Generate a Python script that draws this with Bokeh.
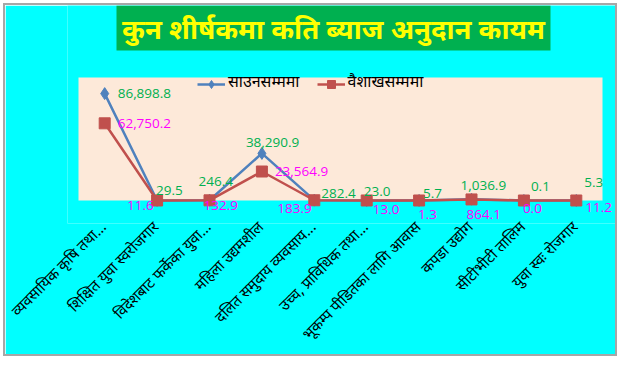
import math
from bokeh.plotting import figure
from bokeh.models import (ColumnDataSource, Range1d, LabelSet, FixedTicker,
                          BoxAnnotation, Legend, Label)
from bokeh.core.properties import value
from bokeh.embed import file_html
from bokeh.resources import INLINE

categories = [
    "व्यवसायिक कृषि तथा...",
    "शिक्षित युवा स्वरोजगार",
    "विदेशबाट फर्केका युवा...",
    "महिला उद्यमशील",
    "दलित समुदाय व्यवसाय...",
    "उच्च, प्राविधिक तथा...",
    "भूकम्प पीडितका लागि आवास",
    "कपडा उद्योग",
    "सीटीभीटी तालिम",
    "युवा स्वः रोजगार",
]
saun = [86898.8, 29.5, 246.4, 38290.9, 282.4, 23.0, 5.7, 1036.9, 0.1, 5.3]
baishakh = [62750.2, 11.6, 132.9, 23564.9, 183.9, 13.0, 1.3, 864.1, 0.0, 11.2]
series_names = ["साउनसम्ममा", "वैशाखसम्ममा"]
title_text = "कुन शीर्षकमा कति ब्याज अनुदान कायम"

# label placement (pixels, style only)
saun_dx = [13, -1, -11, -16, 7, -3, 4, -11, 7, 8]
saun_dy = [0, -10, -19, -11, -7, -9, -7, -14, -14, -18]
bai_dx = [13, -30, -6, 13, -37, 6, -1, -5, -1, 9]
bai_dy = [0, 5, 5, 0, 8, 9, 14, 15, 8, 7]

FONT = "Noto Sans Devanagari, Lohit Devanagari, Mangal, Noto Sans, sans-serif"
NUMFONT = "Open Sans"

n = len(categories)
xpos = list(range(n))

CW, CH = 612, 354              # canvas size
plot_left, plot_top = 73, 72   # peach plot area (canvas px)
plot_h = 123                   # px for 0..ymax
zero_y = plot_top + plot_h
pad_below = 23                 # frame px below zero line
ymax = 100000
px_per_val = ymax / plot_h
frame_top = 0
pad_above = plot_top - frame_top
frame_h = pad_above + plot_h + pad_below
frame_bottom = frame_top + frame_h

band_px = 52.4
pad_l_px, pad_r_px = 11, 13
frame_left = plot_left - pad_l_px
frame_w = round(band_px * n + pad_l_px + pad_r_px)


def cx(px):
    """canvas px -> x data coordinate"""
    return -0.5 + (px - plot_left) / band_px


def cy(px):
    """canvas px -> y data coordinate"""
    return (zero_y - px) * px_per_val


p = figure(x_range=Range1d(cx(frame_left), cx(frame_left + frame_w)),
           y_range=Range1d(cy(frame_bottom), cy(frame_top)),
           width=CW, height=CH, frame_width=frame_w, frame_height=frame_h,
           output_backend="svg", toolbar_location=None, title=None,
           min_border_left=frame_left, min_border_right=0,
           min_border_top=frame_top, min_border_bottom=120)
p.styles = {"border": "2px solid #A6A6A6", "margin-left": "3px", "margin-top": "3px"}
p.background_fill_color = "#00FFFF"
p.border_fill_color = "#00FFFF"
p.outline_line_color = None
p.grid.visible = False
p.yaxis.visible = False

# plot area background
p.add_layout(BoxAnnotation(bottom=0, top=ymax, left=-0.5, right=n - 0.5,
                           fill_color="#FDE9D9", fill_alpha=1.0,
                           line_color=None, level="underlay"))

# title box
tl, tr, tt, tb = 111, 545, 0, 45
p.add_layout(BoxAnnotation(left=cx(tl), right=cx(tr), top=cy(tt), bottom=cy(tb),
                           fill_color="#00B050", fill_alpha=1.0, line_color=None))
p.add_layout(Label(x=(tl + tr) / 2 - frame_left, y=frame_bottom - 26.5,
                   x_units="screen", y_units="screen", text=title_text,
                   text_align="center", text_baseline="middle",
                   text_color="#FFFF00", text_font=FONT, text_font_style="bold",
                   text_font_size="27.5px"))

src = ColumnDataSource(dict(x=xpos, saun=saun, bai=baishakh,
                            saun_lbl=[f"{v:,.1f}" for v in saun],
                            bai_lbl=[f"{v:,.1f}" for v in baishakh],
                            sdx=saun_dx, sdy=[-d for d in saun_dy],
                            bdx=bai_dx, bdy=[-d for d in bai_dy]))

l1 = p.line("x", "saun", source=src, line_color="#4F81BD", line_width=2.5)
m1 = p.scatter("x", "saun", source=src, marker="diamond", size=12,
               fill_color="#4F81BD", line_color="#4F81BD")
l2 = p.line("x", "bai", source=src, line_color="#C0504D", line_width=2.5)
m2 = p.scatter("x", "bai", source=src, marker="square", size=11,
               fill_color="#C0504D", line_color="#C0504D")

p.add_layout(LabelSet(x="x", y="saun", text="saun_lbl", source=src,
                      x_offset="sdx", y_offset="sdy", text_align="left",
                      text_baseline="middle", text_color="#00B050",
                      text_font=value(NUMFONT), text_font_size="13.5px"))
p.add_layout(LabelSet(x="x", y="bai", text="bai_lbl", source=src,
                      x_offset="bdx", y_offset="bdy", text_align="left",
                      text_baseline="middle", text_color="#FF00FF",
                      text_font=value(NUMFONT), text_font_size="13.5px"))

legend_x, legend_cy, legend_h = 192, 79, 20
legend = Legend(items=[(series_names[0], [l1, m1]), (series_names[1], [l2, m2])],
                orientation="horizontal",
                location=(legend_x - frame_left, frame_bottom - legend_cy - legend_h / 2),
                background_fill_alpha=0, border_line_color=None,
                padding=0, margin=0, spacing=17, glyph_width=28,
                glyph_height=legend_h, label_height=legend_h,
                label_text_font=FONT, label_text_font_size="16px",
                label_text_color="black", label_standoff=3)
p.add_layout(legend, "center")

p.xaxis.ticker = FixedTicker(ticks=xpos)
p.xaxis.major_label_overrides = {i: c for i, c in zip(xpos, categories)}
p.xaxis.major_label_orientation = math.pi / 4
p.xaxis.major_label_text_font = FONT
p.xaxis.major_label_text_font_size = "15px"
p.xaxis.major_label_text_color = "black"
p.xaxis.major_tick_line_color = None
p.xaxis.minor_tick_line_color = None
p.xaxis.axis_line_color = None
p.xaxis.major_label_standoff = -4

open("out.html", "w").write(file_html(p, INLINE))
